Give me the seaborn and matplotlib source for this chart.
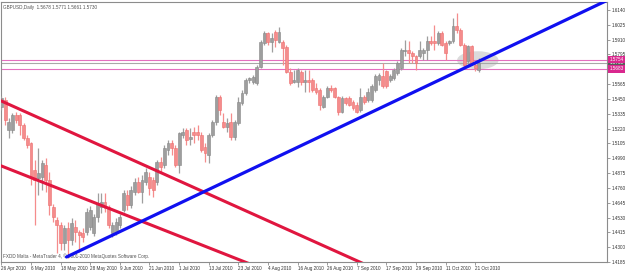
import numpy as np
import pandas as pd
import matplotlib
matplotlib.use("Agg")
import matplotlib.pyplot as plt
from matplotlib.patches import Ellipse
import seaborn as sns

# ---------------- data (GBPUSD daily) ----------------
opens = [1.5388, 1.5442, 1.5209, 1.5209, 1.5326, 1.5326, 1.5248, 1.5147, 1.5108, 1.4899,
         1.4837, 1.4845, 1.4938, 1.4821, 1.4612, 1.4511, 1.4472, 1.4332, 1.4449, 1.4356,
         1.4456, 1.4418, 1.4410, 1.4418, 1.4456, 1.4410, 1.4534, 1.4612, 1.4650, 1.4612,
         1.4410, 1.4418, 1.4472, 1.4589, 1.4705, 1.4627, 1.4728, 1.4806, 1.4728, 1.4806,
         1.4845, 1.4821, 1.4806, 1.4961, 1.4938, 1.5054, 1.5108, 1.5070, 1.4938, 1.5170,
         1.5209, 1.5139, 1.5194, 1.5194, 1.5170, 1.5077, 1.5015, 1.5170, 1.5271, 1.5465,
         1.5271, 1.5232, 1.5271, 1.5155, 1.5264, 1.5419, 1.5496, 1.5597, 1.5582, 1.5574,
         1.5698, 1.5884, 1.5962, 1.5892, 1.5970, 1.5892, 1.5892, 1.5853, 1.5659, 1.5582,
         1.5582, 1.5659, 1.5582, 1.5597, 1.5597, 1.5535, 1.5520, 1.5388, 1.5465, 1.5535,
         1.5535, 1.5465, 1.5349, 1.5458, 1.5458, 1.5427, 1.5403, 1.5364, 1.5465, 1.5442,
         1.5442, 1.5520, 1.5597, 1.5628, 1.5667, 1.5597, 1.5613, 1.5652, 1.5690, 1.5822,
         1.5830, 1.5807, 1.5783, 1.5783, 1.5807, 1.5830, 1.5900, 1.5900, 1.5884, 1.5962,
         1.5884, 1.5884, 1.5900, 1.6016, 1.5985, 1.5869, 1.5745, 1.5861, 1.5714, 1.5678]
highs = [1.5473, 1.5465, 1.5302, 1.5341, 1.5349, 1.5341, 1.5264, 1.5170, 1.5116, 1.4977,
         1.5070, 1.4977, 1.4992, 1.4883, 1.4635, 1.4534, 1.4495, 1.4472, 1.4495, 1.4526,
         1.4511, 1.4433, 1.4449, 1.4604, 1.4619, 1.4557, 1.4720, 1.4720, 1.4720, 1.4627,
         1.4495, 1.4526, 1.4557, 1.4744, 1.4744, 1.4775, 1.4837, 1.4845, 1.4860, 1.4914,
         1.4883, 1.4845, 1.4977, 1.5000, 1.5093, 1.5132, 1.5132, 1.5093, 1.5194, 1.5225,
         1.5225, 1.5225, 1.5232, 1.5248, 1.5194, 1.5108, 1.5186, 1.5287, 1.5481, 1.5481,
         1.5341, 1.5302, 1.5341, 1.5287, 1.5465, 1.5520, 1.5613, 1.5620, 1.5636, 1.5714,
         1.5908, 1.5977, 1.5970, 1.5962, 1.5985, 1.6008, 1.5908, 1.5869, 1.5690, 1.5675,
         1.5690, 1.5675, 1.5675, 1.5675, 1.5613, 1.5574, 1.5535, 1.5481, 1.5551, 1.5558,
         1.5543, 1.5473, 1.5473, 1.5465, 1.5473, 1.5442, 1.5427, 1.5535, 1.5481, 1.5535,
         1.5566, 1.5644, 1.5652, 1.5729, 1.5675, 1.5644, 1.5690, 1.5745, 1.5845, 1.5908,
         1.5900, 1.5822, 1.5791, 1.5900, 1.5845, 1.5939, 1.5939, 1.6024, 1.5977, 1.5977,
         1.5900, 1.5908, 1.6078, 1.6117, 1.6001, 1.5884, 1.5869, 1.5869, 1.5729, 1.5771]
lows = [1.5364, 1.5248, 1.5147, 1.5186, 1.5264, 1.5170, 1.5132, 1.5070, 1.4782, 1.4472,
        1.4705, 1.4744, 1.4728, 1.4550, 1.4495, 1.4255, 1.4278, 1.4278, 1.4216, 1.4317,
        1.4340, 1.4262, 1.4340, 1.4394, 1.4433, 1.4387, 1.4495, 1.4565, 1.4573, 1.4449,
        1.4379, 1.4394, 1.4449, 1.4573, 1.4589, 1.4604, 1.4705, 1.4720, 1.4643, 1.4782,
        1.4705, 1.4689, 1.4782, 1.4876, 1.4914, 1.5015, 1.5015, 1.4922, 1.4876, 1.5147,
        1.5093, 1.5093, 1.5108, 1.5132, 1.5039, 1.4961, 1.4953, 1.5155, 1.5248, 1.5326,
        1.5225, 1.5194, 1.5132, 1.5132, 1.5248, 1.5403, 1.5481, 1.5574, 1.5566, 1.5558,
        1.5690, 1.5869, 1.5869, 1.5814, 1.5853, 1.5884, 1.5714, 1.5652, 1.5558, 1.5574,
        1.5543, 1.5558, 1.5504, 1.5504, 1.5504, 1.5489, 1.5364, 1.5380, 1.5458, 1.5504,
        1.5458, 1.5326, 1.5341, 1.5403, 1.5395, 1.5364, 1.5341, 1.5349, 1.5411, 1.5427,
        1.5427, 1.5504, 1.5558, 1.5535, 1.5535, 1.5582, 1.5597, 1.5636, 1.5675, 1.5783,
        1.5729, 1.5729, 1.5675, 1.5768, 1.5752, 1.5752, 1.5869, 1.5830, 1.5869, 1.5861,
        1.5752, 1.5869, 1.5884, 1.5962, 1.5861, 1.5690, 1.5706, 1.5714, 1.5667, 1.5661]
closes = [1.5458, 1.5287, 1.5271, 1.5326, 1.5287, 1.5248, 1.5147, 1.5093, 1.4837, 1.4821,
          1.4876, 1.4953, 1.4821, 1.4627, 1.4534, 1.4472, 1.4332, 1.4449, 1.4356, 1.4487,
          1.4418, 1.4394, 1.4379, 1.4573, 1.4589, 1.4534, 1.4643, 1.4650, 1.4604, 1.4472,
          1.4472, 1.4495, 1.4534, 1.4720, 1.4627, 1.4744, 1.4806, 1.4728, 1.4821, 1.4883,
          1.4759, 1.4744, 1.4961, 1.4922, 1.5070, 1.5108, 1.5070, 1.4938, 1.5186, 1.5194,
          1.5132, 1.5155, 1.5170, 1.5170, 1.5054, 1.5031, 1.5170, 1.5271, 1.5465, 1.5364,
          1.5232, 1.5264, 1.5155, 1.5271, 1.5427, 1.5496, 1.5597, 1.5613, 1.5620, 1.5698,
          1.5892, 1.5962, 1.5892, 1.5923, 1.5908, 1.5970, 1.5845, 1.5659, 1.5574, 1.5597,
          1.5675, 1.5582, 1.5597, 1.5582, 1.5520, 1.5504, 1.5403, 1.5465, 1.5535, 1.5520,
          1.5465, 1.5349, 1.5458, 1.5419, 1.5403, 1.5380, 1.5349, 1.5465, 1.5427, 1.5504,
          1.5551, 1.5628, 1.5636, 1.5551, 1.5551, 1.5628, 1.5675, 1.5729, 1.5830, 1.5830,
          1.5807, 1.5783, 1.5729, 1.5830, 1.5830, 1.5900, 1.5884, 1.5884, 1.5962, 1.5869,
          1.5807, 1.5900, 1.6016, 1.5985, 1.5869, 1.5714, 1.5861, 1.5729, 1.5690, 1.5730]

dates = pd.bdate_range("2010-04-26", "2010-10-22")[:len(opens)]

date_labels = ["26 Apr 2010", "6 May 2010", "18 May 2010", "28 May 2010", "9 Jun 2010",
               "21 Jun 2010", "1 Jul 2010", "13 Jul 2010", "23 Jul 2010", "4 Aug 2010",
               "16 Aug 2010", "26 Aug 2010", "7 Sep 2010", "17 Sep 2010", "29 Sep 2010",
               "11 Oct 2010", "21 Oct 2010"]
price_ticks = ["1.4185", "1.4300", "1.4415", "1.4530", "1.4645", "1.4760", "1.4875",
               "1.4990", "1.5105", "1.5220", "1.5335", "1.5450", "1.5565", "1.5680",
               "1.5795", "1.5910", "1.6025", "1.6140"]

# drawn objects (bar index, price)
blue_trend_bars = [17.6, 128.0]
blue_trend_prices = [1.4224, 1.5729]
red_upper_bars = [0.0, 96.8]
red_upper_prices = [1.5434, 1.4185]
red_lower_bars = [0.0, 65.8]
red_lower_prices = [1.4930, 1.4185]
hlines_prices = [1.5754, 1.5730, 1.5683]
hlines_kind = ["pink", "grey", "pink"]

title_text = "GBPUSD,Daily  1.5678 1.5771 1.5661 1.5730"
footer_text = "FXDD Malta - MetaTrader 4, \u00a9 2001-2010 MetaQuotes Software Corp."

# ---------------- figure ----------------
sns.set_theme(style="white")
plt.rcParams["font.family"] = ["Liberation Sans", "DejaVu Sans"]
FS = 3.3

W, H = 625, 271
fig = plt.figure(figsize=(W / 100, H / 100), dpi=100)
ax = fig.add_axes([1 / W, (H - 262) / H, (607 - 1) / W, (262 - 2) / H])

df = pd.DataFrame({"date": dates, "o": opens, "h": highs, "l": lows, "c": closes})
df["i"] = np.arange(len(df))
up = df["c"] >= df["o"]

XMAX = 163.6
ax.set_xlim(-0.1, XMAX)
ax.set_ylim(1.4185, 1.6202)

bull_face, bull_edge = "#9E9E9E", "#878787"
bear_face, bear_edge = "#F58C8C", "#EC6F6F"

# ellipse behind candles
ax.add_patch(Ellipse((128.7, 1.5750), width=11.2, height=0.0140,
                     facecolor="#C4C4C4", edgecolor="none", alpha=0.6, zorder=1))

# horizontal lines
for p, k in zip(hlines_prices, hlines_kind):
    ax.axhline(p, color="#E46FBF" if k == "pink" else "#A8A8A8", lw=0.8, zorder=2)

# candles
for sel, face, edge in [(up, bull_face, bull_edge), (~up, bear_face, bear_edge)]:
    d = df[sel]
    ax.vlines(d["i"], d["l"], d["h"], colors=face, lw=0.9, zorder=3)
    body = (d["c"] - d["o"]).abs().clip(lower=0.00025)
    ax.bar(d["i"], body, bottom=np.minimum(d["o"], d["c"]), width=0.78,
           color=face, edgecolor=edge, linewidth=0.4, zorder=4)

# trend lines
def extend(bx, py, x0, x1):
    s = (py[1] - py[0]) / (bx[1] - bx[0])
    return [x0, x1], [py[0] + s * (x0 - bx[0]), py[0] + s * (x1 - bx[0])]

lx, ly = extend(red_upper_bars, red_upper_prices, -0.1, 140)
sns.lineplot(x=lx, y=ly, ax=ax, color="#E0163F", lw=2.2, zorder=5)
lx, ly = extend(red_lower_bars, red_lower_prices, -0.1, 100)
sns.lineplot(x=lx, y=ly, ax=ax, color="#E0163F", lw=2.2, zorder=5)
lx, ly = extend(blue_trend_bars, blue_trend_prices, blue_trend_bars[0], XMAX + 2)
sns.lineplot(x=lx, y=ly, ax=ax, color="#1010F0", lw=2.3, zorder=6)

# axes styling
for sp in ax.spines.values():
    sp.set_color("#8C8C8C")
    sp.set_linewidth(0.8)
ax.yaxis.tick_right()
yt = [float(t) for t in price_ticks]
ax.set_yticks(yt)
ax.set_yticklabels([t if t != "1.5680" else "" for t in price_ticks])
ax.set_xticks(np.arange(0, len(df), 8)[:len(date_labels)])
ax.set_xticklabels(date_labels, ha="left")
ax.tick_params(axis="both", which="both", length=2.2, width=0.6, color="#8C8C8C",
               labelsize=FS, labelcolor="#333333", pad=1.0)
ax.tick_params(axis="y", right=True, left=False)
ax.tick_params(axis="x", bottom=True)
ax.set_xlabel("")
ax.set_ylabel("")
ax.grid(False)

# price labels on right axis
for p, k in [(1.5730, "grey"), (1.5754, "pink"), (1.5683, "pink")]:
    ax.text(1.004, p, f"{p:.4f}", transform=ax.get_yaxis_transform(), fontsize=FS,
            color="white", va="center", ha="left", zorder=10, clip_on=False,
            bbox=dict(boxstyle="square,pad=0.25", fc="#D9288E" if k == "pink" else "#5A5A5A",
                      ec="none"))

ax.text(0.004, 0.988, title_text, transform=ax.transAxes, fontsize=FS,
        color="#505050", va="top", ha="left")
ax.text(0.004, 0.012, footer_text, transform=ax.transAxes, fontsize=FS,
        color="#505050", va="bottom", ha="left")

fig.savefig("out.png", dpi=100, facecolor="white")
